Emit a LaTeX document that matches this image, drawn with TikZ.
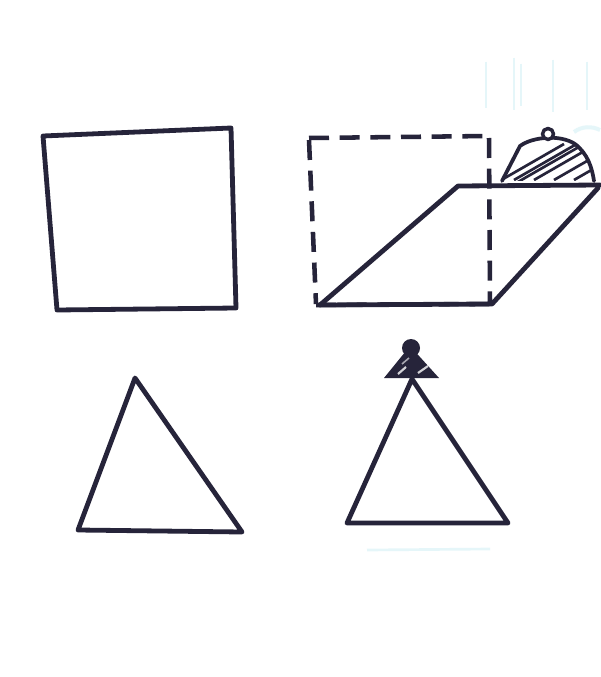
\documentclass[tikz,border=0pt]{standalone}
\usepackage{tikz}

\definecolor{inkblue}{RGB}{38,36,58}
\definecolor{faintcyan}{RGB}{205,238,244}

\tikzset{
  ink/.style={draw=inkblue, line width=3.6pt, line join=round, line cap=round},
  inkdash/.style={draw=inkblue, line width=3.4pt, dash pattern=on 15pt off 8pt},
  hatchline/.style={draw=inkblue, line width=2pt},
  faint/.style={draw=faintcyan, line width=1.2pt, opacity=0.5}
}

\begin{document}
\begin{tikzpicture}[x=0.75pt,y=0.75pt,yscale=-1,xscale=1]
%set diagram left start at 0, and has height of 677
\useasboundingbox (0,0) rectangle (600,677);
\fill[white] (0,0) rectangle (600,677);

%Faint marks [id:top right]
\draw[faint] (486,62) -- (486,108);
\draw[faint] (514,58) -- (514,110);
\draw[faint] (521,64) -- (521,106);
\draw[faint] (553,60) -- (553,112);
\draw[faint] (587,62) -- (587,110);
\draw[faint, line width=3pt] (574,132) .. controls (582,126) and (592,126) .. (600,130);
%Faint marks [id:under triangle]
\draw[faint, line width=2pt] (367,550) -- (490,549);

%Shape: Square [id:square]
\draw[ink] (43,136) -- (231,128) -- (236,308) -- (57,310) -- cycle;

%Shape: Dashed Rectangle [id:dashed]
\draw[inkdash] (309,138) -- (489,136);
\draw[inkdash] (309,140) -- (316,304);
\draw[inkdash] (489,138) -- (490,303);
\draw[inkdash] (316,305) -- (490,304);

%Shape: Parallelogram [id:slant]
\draw[ink] (320,305) -- (458,186) -- (600,185);
\draw[ink] (320,305) -- (492,304) -- (598,188);

%Shape: Dome [id:dome]
\begin{scope}
\clip (502,181) -- (520,146) .. controls (532,137) and (560,134) .. (575,144) .. controls (588,154) and (592,168) .. (594,181) -- cycle;
\draw[hatchline] (484,190) -- (564,144);
\draw[hatchline] (504,190) -- (584,144);
\draw[hatchline] (514,180) -- (594,134);
\draw[hatchline] (534,180) -- (614,134);
\draw[hatchline] (554,180) -- (634,134);
\draw[hatchline] (574,180) -- (654,134);
\end{scope}
\draw[ink, line width=2.8pt] (502,181) -- (520,146) .. controls (532,137) and (560,134) .. (575,144) .. controls (588,154) and (592,168) .. (594,181);
\draw[ink, line width=2.6pt, fill=white] (548,134) circle (5.5);

%Shape: Triangle [id:triangle left]
\draw[ink] (135,378) -- (78,530) -- (242,532) -- cycle;

%Shape: Triangle [id:triangle right]
\draw[ink] (412,379) -- (347,523) -- (508,523) -- cycle;

%Shape: Small Triangle [id:cap]
\fill[inkblue] (384,378) -- (410,346) -- (439,378) -- cycle;
\fill[inkblue] (411,348) circle (9);
\draw[white, line width=1.6pt, opacity=0.8] (398,374) -- (406,367);
\draw[white, line width=1.6pt, opacity=0.8] (418,373) -- (428,366);
\draw[white, line width=1.2pt, opacity=0.6] (402,364) -- (409,358);

\end{tikzpicture}
\end{document}
